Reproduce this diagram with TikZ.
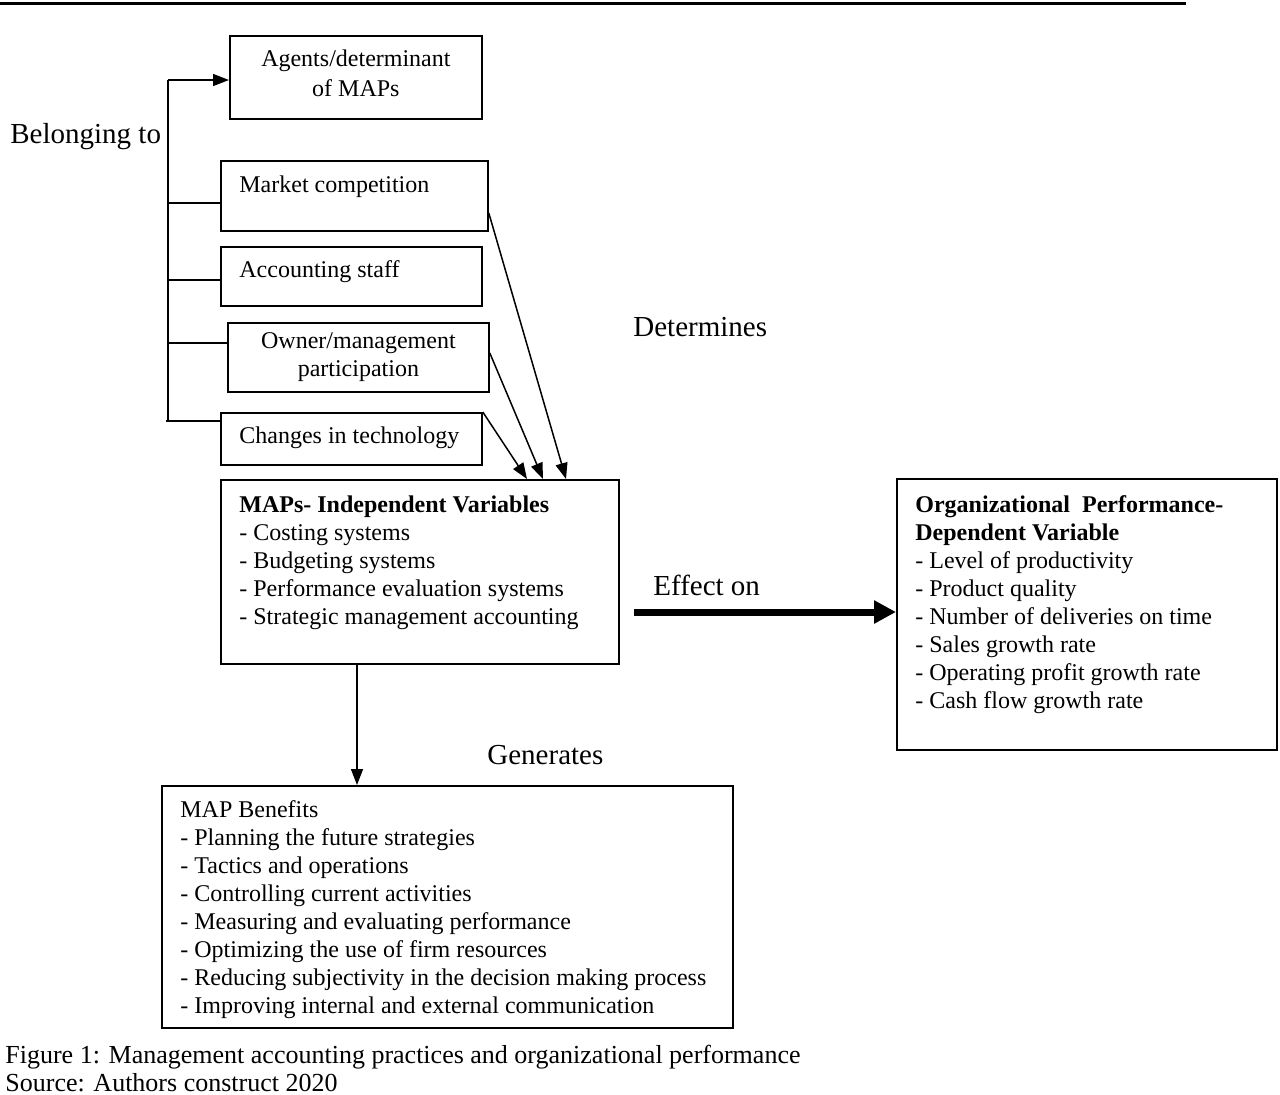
\documentclass[tikz,border=0pt]{standalone}
\usepackage{fontspec}
\setmainfont{Liberation Serif}
\usetikzlibrary{arrows.meta,calc}
\begin{document}
\begin{tikzpicture}[x=0.5pt,y=-0.5pt,
  box/.style={draw, line width=0.9pt, inner sep=0pt, anchor=north west},
  txt/.style={inner sep=0pt, anchor=north west, align=left, font=\fontsize{12}{14}\selectfont},
  ctxt/.style={align=center, font=\fontsize{12}{14}\selectfont},
  lbl/.style={inner sep=0pt, anchor=base west, font=\fontsize{14.5}{17}\selectfont},
  captxt/.style={inner sep=0pt, anchor=base west, font=\fontsize{13}{15}\selectfont},
  conn/.style={line width=0.75pt},
  arr/.style={conn, -{Triangle[length=8pt,width=6pt]}},
  bigarr/.style={line width=3.5pt, -{Triangle[length=11pt,width=11pt]}}
]
\useasboundingbox (0,0) rectangle (1280,1094);
% top rule
\coordinate (r0) at (0,3);
\coordinate (r1) at (1186,3);
\draw[line width=1.5pt] (r0) -- (r1);

% boxes
\node[box, minimum width=126pt, minimum height=41.5pt] (agents) at (229,35) {};
\node[box, minimum width=133.5pt, minimum height=35pt] (market) at (220,160) {};
\node[box, minimum width=130.5pt, minimum height=29.5pt] (staff) at (220,246) {};
\node[box, ctxt, minimum width=130.5pt, minimum height=34.5pt] (owner) at (227,322) {Owner/management\\participation};
\node[box, minimum width=130.5pt, minimum height=26pt] (tech) at (220,412) {};
\node[box, minimum width=199pt, minimum height=92pt] (maps) at (220,479) {};
\node[box, minimum width=190pt, minimum height=135.5pt] (perf) at (896,478) {};
\node[box, minimum width=285.5pt, minimum height=121pt] (ben) at (161,785) {};

% box texts
\node[ctxt, inner sep=0pt] (agentsT) at ($(agents.north)+(0,38)$) {Agents/determinant\\[1pt]of MAPs};
\node[txt] (marketT) at ($(market.north west)+(19,15.6)$) {Market competition};
\node[txt] (staffT) at ($(staff.north west)+(19,14.6)$) {Accounting staff};
\node[txt] (techT) at ($(tech.north west)+(19,14.6)$) {Changes in technology};
\node[txt] (mapsT) at ($(maps.north west)+(19,16.6)$) {\textbf{MAPs- Independent Variables}\\- Costing systems\\- Budgeting systems\\- Performance evaluation systems\\- Strategic management accounting};
\node[txt] (perfT) at ($(perf.north west)+(19,17.6)$) {\textbf{Organizational\ \ Performance-}\\\textbf{Dependent Variable}\\- Level of productivity\\- Product quality\\- Number of deliveries on time\\- Sales growth rate\\- Operating profit growth rate\\- Cash flow growth rate};
\node[txt] (benT) at ($(ben.north west)+(19,15.6)$) {MAP Benefits\\- Planning the future strategies\\- Tactics and operations\\- Controlling current activities\\- Measuring and evaluating performance\\- Optimizing the use of firm resources\\- Reducing subjectivity in the decision making process\\- Improving internal and external communication};

% labels
\node[lbl] (belong) at (10,143) {Belonging to};
\node[lbl] (determ) at (633,336) {Determines};
\node[lbl] (effect) at (653,595) {Effect on};
\node[lbl] (gener) at (487,764) {Generates};
\node[captxt] (cap1) at (5,1063) {Figure 1: Management accounting practices and organizational performance};
\node[captxt] (cap2) at (5,1091) {Source: Authors construct 2020};

% trunk
\coordinate (tA) at (168,80);
\coordinate (tM) at (168,203);
\coordinate (tS) at (168,280);
\coordinate (tO) at (168,343);
\coordinate (tE) at (168,421);
\coordinate (tT) at (166,421);
\draw[conn] (tA) -- (tE);
\draw[arr] (tA) -- (tA -| agents.west);
\draw[conn] (tM) -- (tM -| market.west);
\draw[conn] (tS) -- (tS -| staff.west);
\draw[conn] (tO) -- (tO -| owner.west);
\draw[conn] (tT) -- (tT -| tech.west);

% determines arrows
\draw[arr] (tech.north east) -- ($(maps.north west)+(307,0)$);
\draw[arr] ($(owner.north east)+(0,31)$) -- ($(maps.north west)+(323,0)$);
\draw[arr] ($(market.north east)+(0,53)$) -- ($(maps.north west)+(346,0)$);

% effect on
\coordinate (eS) at (634,612);
\draw[bigarr] (eS) -- (eS -| perf.west);

% generates
\draw[arr] ($(maps.south west)+(137,0)$) -- ($(ben.north west)+(196,0)$);
\end{tikzpicture}
\end{document}
